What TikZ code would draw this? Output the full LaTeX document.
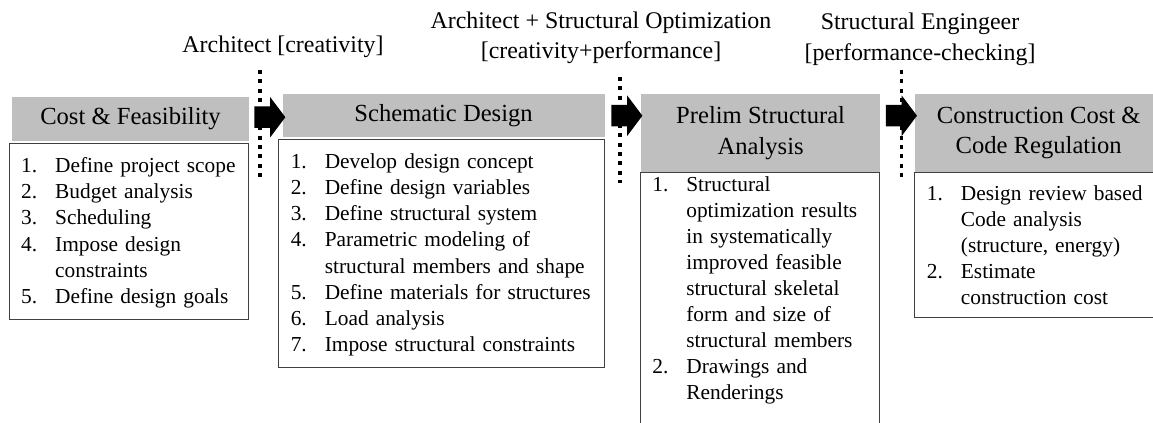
\documentclass[tikz,border=0pt]{standalone}
\usepackage{fontspec}
\setmainfont{Liberation Serif}
\usepackage{enumitem}
\setlist[enumerate]{nosep, leftmargin=0.85cm, labelwidth=0.85cm, labelsep=0pt, align=left}
\usepackage{tikz}
\usetikzlibrary{positioning, calc, shapes.arrows}
\definecolor{headgray}{HTML}{BFBFBF}
\definecolor{edgegray}{HTML}{404040}

\begin{document}
\begin{tikzpicture}[
    head/.style={fill=headgray, align=center, inner sep=0pt, font=\fontsize{17.5}{22}\selectfont},
    body/.style={draw=edgegray, line width=0.7pt, inner xsep=0.3cm, inner ysep=0.3cm, font=\fontsize{15.2}{18.5}\selectfont},
    blockarr/.style={single arrow, fill=black, inner sep=0pt, text height=0.2625cm, text depth=0.2625cm, minimum height=0.775cm, single arrow head extend=0.2375cm, single arrow tip angle=106},
    divider/.style={line width=0.09cm, dash pattern=on 0.1cm off 0.135cm},
    role/.style={align=center, font=\fontsize{17}{21.5}\selectfont}
]
\useasboundingbox (0,0) rectangle (28.825,-10.575);
\clip (0,0) rectangle (28.825,-10.575);

% Stage headers
\node[head, minimum width=5.925cm, minimum height=1.1cm] (hd1) at (3.2625,-2.975) {Cost \& Feasibility};
\node[head, minimum width=8.05cm, minimum height=1.075cm, right=0.825cm of hd1.north east, anchor=north west, yshift=0.075cm] (hd2) {Schematic Design};
\node[head, minimum width=5.975cm, minimum height=1.95cm, right=0.9cm of hd2.north east, anchor=north west] (hd3) {Prelim Structural\\Analysis};
\node[head, minimum width=6.2cm, minimum height=1.95cm, right=0.85cm of hd3.north east, anchor=north west] (hd4) {Construction Cost \&\\Code Regulation};

% Task lists
\node[body, text width=5.375cm, below=0.05cm of hd1.south west, anchor=north west, xshift=-0.075cm] (bd1) {%
\vspace{-0.22cm}
\begin{enumerate}
\item Define project scope
\item Budget analysis
\item Scheduling
\item Impose design\newline constraints
\item Define design goals
\end{enumerate}};
\node[body, text width=7.55cm, below=0.05cm of hd2.south west, anchor=north west, xshift=-0.1cm] (bd2) {%
\vspace{-0.22cm}
\begin{enumerate}
\item Develop design concept
\item Define design variables
\item Define structural system
\item Parametric modeling of\newline structural members and shape
\item Define materials for structures
\item Load analysis
\item Impose structural constraints
\end{enumerate}};
\node[body, text width=5.375cm, inner ysep=0.06cm, below=0cm of hd3.south west, anchor=north west, xshift=-0.025cm] (bd3) {%
\vspace{-0.25cm}
\begin{enumerate}
\item Structural\newline optimization results\newline in systematically\newline improved feasible\newline structural skeletal\newline form and size of\newline structural members
\item Drawings and\newline Renderings
\end{enumerate}\par\vspace{0.6cm}\null};
\node[body, text width=5.6cm, below=0cm of hd4.south west, anchor=north west] (bd4) {%
\vspace{-0.25cm}
\begin{enumerate}
\item Design review based\newline Code analysis\newline (structure, energy)
\item Estimate\newline construction cost
\end{enumerate}};

% Block arrows between stages
\node[blockarr] (arr1) at ($(hd1.north east)!0.5!(hd2.north west)+(0,-0.55)$) {};
\node[blockarr] (arr2) at ($(hd2.north east)!0.5!(hd3.north west)+(0,-0.55)$) {};
\node[blockarr] (arr3) at ($(hd3.north east)!0.5!(hd4.north west)+(0,-0.55)$) {};

% Hand-over lines
\coordinate (d1top) at ($(arr1)+(-0.1375,1.1875)$);
\coordinate (d1bot) at ($(arr1)+(-0.1375,-1.5625)$);
\coordinate (d2top) at ($(arr2)+(-0.075,0.975)$);
\coordinate (d2bot) at ($(arr2)+(-0.075,-1.675)$);
\coordinate (d3top) at ($(arr3)+(0.1,1.15)$);
\coordinate (d3bot) at ($(arr3)+(0.1,-1.6)$);
\draw[divider] (d1top) -- (d1bot);
\draw[divider] (d2top) -- (d2bot);
\draw[divider] (d3top) -- (d3bot);

% Roles
\node[role] (lb1) at (7.075,-1.175) {Architect [creativity]};
\node[role] (lb2) at (15.025,-0.95) {Architect + Structural Optimization\\{[creativity+performance]}};
\node[role, font=\fontsize{17}{22}\selectfont] (lb3) at (23.0,-0.975) {Structural Engingeer\\{[performance-checking]}};

\end{tikzpicture}
\end{document}
